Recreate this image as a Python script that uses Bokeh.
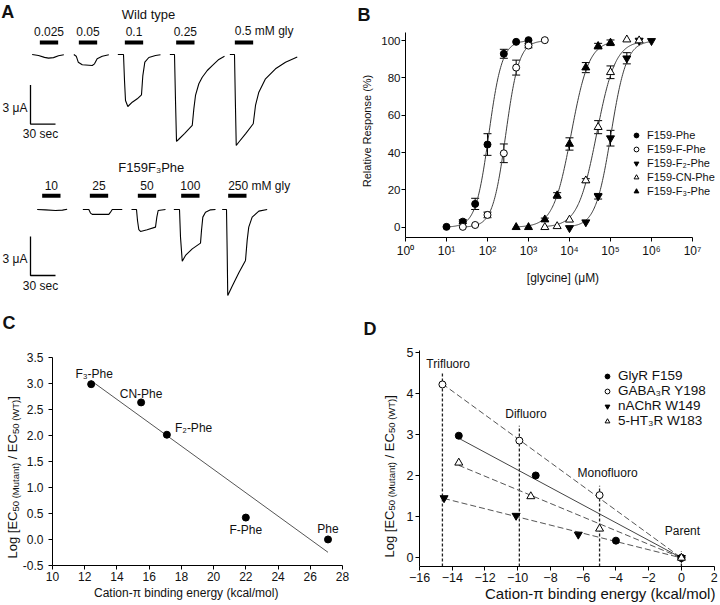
import math
import numpy as np
from bokeh.plotting import figure
from bokeh.layouts import column, row
from bokeh.core.properties import value
from bokeh.models import (ColumnDataSource, Label, Legend, LegendItem, Whisker,
                          TeeHead, FixedTicker, Range1d, PrintfTickFormatter, LinearAxis)
from bokeh.embed import file_html
from bokeh.resources import INLINE

FONT = "Liberation Sans"
INK = "#111111"

# ======================= DATA =======================
# ---- Panel A: current traces (time in s from sweep start, current in uA vs baseline)
wt_title = "Wild type"
wt_conc_labels = ["0.025", "0.05", "0.1", "0.25", "0.5 mM gly"]
wt_time = [
    [0, 7.6, 14.8, 19.6, 25.6, 31.6, 38.0],
    [0, 2.9, 5.3, 10.1, 22.1, 24.8, 28.0, 34.1, 42.0],
    [0, 6.8, 8.0, 9.2, 12.0, 17.3, 23.3, 28.4, 30.0, 32.4, 37.2, 45.2, 51.2],
    [0, 5.6, 6.8, 8.0, 10.4, 17.6, 26.9, 28.8, 30.8, 34.8, 38.9, 44.9, 50.9, 58.8, 65.6],
    [0, 5.6, 6.6, 7.7, 10.4, 18.8, 28.1, 30.8, 34.8, 42.8, 54.8, 66.8, 80.9],
]
wt_current = [
    [0, -0.08, -0.22, -0.28, -0.24, -0.10, -0.02],
    [0, -0.13, -0.59, -0.79, -0.85, -0.72, -0.33, -0.13, -0.02],
    [0, 0, -2.00, -3.54, -4.00, -3.67, -3.41, -3.10, -1.62, -0.59, -0.23, -0.08, -0.02],
    [0, 0, -3.54, -6.69, -6.54, -6.08, -5.46, -4.18, -3.15, -2.25, -1.75, -1.23, -0.85, -0.38, -0.13],
    [0, 0, -3.50, -7.00, -6.77, -6.10, -5.33, -3.92, -2.90, -1.87, -1.10, -0.59, -0.20],
]
mut_title = "F159F\u2083Phe"
mut_conc_labels = ["10", "25", "50", "100", "250 mM gly"]
mut_time = [
    [0, 10.0, 22.0, 30.4, 36.0],
    [0, 7.2, 9.2, 11.3, 31.2, 33.2, 35.3, 47.3],
    [0, 6.0, 7.2, 8.8, 10.8, 18.8, 28.8, 30.4, 32.0, 40.8],
    [0, 6.8, 8.0, 10.1, 14.0, 22.1, 32.0, 33.2, 34.8, 38.0, 44.0, 50.0],
    [0, 5.2, 6.0, 6.7, 12.0, 20.0, 28.0, 30.0, 31.9, 36.0, 44.0, 54.0],
]
mut_current = [
    [0, -0.03, -0.08, -0.05, 0.02],
    [0, 0, -0.28, -0.38, -0.38, -0.21, 0, 0],
    [0, 0, -0.85, -1.56, -1.69, -1.56, -1.36, -0.59, -0.08, 0],
    [0, 0, -2.13, -3.98, -3.54, -3.03, -2.59, -1.62, -0.59, -0.21, -0.03, 0],
    [0, 0, -3.15, -6.62, -5.90, -4.87, -3.92, -2.38, -1.36, -0.59, -0.13, 0],
]
app_duration_s = 22
scale_current_uA = 3
scale_time_s = 30

# ---- Panel B: concentration-response ([glycine] uM, relative response %, SEM)
b_names = ["F159-Phe", "F159-F-Phe", "F159-F\u2082-Phe", "F159-CN-Phe", "F159-F\u2083-Phe"]
phe_x = [10, 25, 50, 100, 250, 500, 1000]
phe_y = [0.2, 3.0, 12.5, 44.3, 92.9, 99.3, 100.2]
phe_err = [0, 1.0, 3.0, 5.8, 2.4, 0, 0]
fphe_x = [25, 50, 100, 250, 500, 1000, 2500]
fphe_y = [0.2, 1.2, 6.6, 39.6, 85.5, 97.3, 100.2]
fphe_err = [0, 0, 1.5, 5.0, 4.0, 1.2, 0]
f2_x = [1e4, 2.5e4, 5e4, 1e5, 2.5e5, 5e5, 1e6]
f2_y = [-0.4, 2.7, 16.6, 47.7, 90.5, 100.0, 99.8]
f2_err = [0, 0, 1.5, 4.2, 3.0, 0, 0]
cn_x = [2500, 5000, 1e4, 2.5e4, 5e4, 1e5, 2.5e5, 5e5]
cn_y = [0.0, 0.5, 4.0, 25.0, 53.6, 83.0, 100.5, 100.0]
cn_err = [0, 0, 0, 1.0, 3.5, 3.4, 0, 0]
f3_x = [500, 1000, 2500, 5000, 1e4, 2.5e4, 5e4, 1e5]
f3_y = [0.0, 0.0, 4.1, 17.0, 44.6, 85.5, 97.0, 98.8]
f3_err = [0, 0, 0.8, 1.5, 3.3, 2.7, 1.5, 1.5]
# Hill fits (EC50 in uM, Hill coefficient)
hill_ec50 = [108, 280, 103000, 46000, 11000]
hill_nh = [2.7, 2.7, 2.3, 1.9, 2.0]
b_xticks = [1, 10, 100, 1000, 10000, 100000, 1000000, 10000000]
b_xtick_labels = ["10\u2070", "10\u00b9", "10\u00b2", "10\u00b3", "10\u2074", "10\u2075", "10\u2076", "10\u2077"]
b_yticks = [0, 20, 40, 60, 80, 100]

# ---- Panel C: log EC50 ratio vs cation-pi binding energy
c_names = ["F\u2083-Phe", "CN-Phe", "F\u2082-Phe", "F-Phe", "Phe"]
c_energy = [12.4, 15.5, 17.1, 22.0, 27.1]
c_logratio = [2.98, 2.63, 2.01, 0.42, 0.0]
c_xticks = [10, 12, 14, 16, 18, 20, 22, 24, 26, 28]
c_yticks = [-0.5, 0.0, 0.5, 1.0, 1.5, 2.0, 2.5, 3.0, 3.5]

# ---- Panel D: relative binding energy vs log EC50 ratio, four receptors
d_names = ["GlyR F159", "GABA\u2083R Y198", "nAChR W149", "5-HT\u2083R W183"]
glyr_x = [-13.6, -8.9, -4.0, 0.0]
glyr_y = [2.98, 2.01, 0.42, 0.0]
gaba_x = [-14.6, -9.9, -5.0, 0.0]
gaba_y = [4.23, 2.86, 1.53, 0.0]
nachr_x = [-14.5, -10.1, -6.3, 0.0]
nachr_y = [1.46, 1.03, 0.57, 0.0]
ht3_x = [-13.6, -9.2, -5.0, 0.0]
ht3_y = [2.32, 1.50, 0.71, 0.0]
d_groups = ["Trifluoro", "Difluoro", "Monofluoro", "Parent"]
d_group_x = [-14.6, -9.9, -5.0, 0.0]
d_group_top = [4.52, 3.22, 1.76, 0.17]
d_xticks = [-16, -14, -12, -10, -8, -6, -4, -2, 0, 2]
d_yticks = [0, 1, 2, 3, 4, 5]

XTITLE = "Cation-\u03c0 binding energy (kcal/mol)"

# ======================= HELPERS =======================
ARIAL = {" ": 278, "(": 333, ")": 333, "/": 278, "[": 278, "]": 278, "-": 333,
         "E": 667, "C": 722, "L": 556, "M": 833, "W": 944, "T": 611,
         "t": 278, "i": 222, "l": 222, "g": 556}


def tw(s, size):
    return sum(ARIAL.get(ch, 556) for ch in s) * size / 1000.0


def base_fig(**kw):
    p = figure(toolbar_location=None, output_backend="svg",
               outline_line_color=None, background_fill_color="white",
               border_fill_color="white", **kw)
    try:
        p.frame_align = False
    except Exception:
        pass
    return p


def style_axes(p, tick_size, title_size, label_standoff=2, title_standoff=4):
    for ax in p.axis:
        ax.axis_line_color = "black"
        ax.axis_line_width = 1
        ax.major_tick_line_color = "black"
        ax.major_tick_in = 0
        ax.major_tick_out = 4
        ax.minor_tick_line_color = None
        ax.major_label_text_font = FONT
        ax.major_label_text_font_size = tick_size
        ax.major_label_text_color = INK
        ax.major_label_standoff = label_standoff
        ax.axis_label_text_font = FONT
        ax.axis_label_text_font_size = title_size
        ax.axis_label_text_font_style = "normal"
        ax.axis_label_text_color = INK
        ax.axis_label_standoff = title_standoff
    p.grid.visible = False


def text_axis(p, side, ticks, texts, size, standoff, orientation="horizontal", bold=False):
    """An axis with no line and no tick marks, used only to place text in a side panel."""
    tk = [round(float(t), 4) for t in ticks]
    ax = LinearAxis(ticker=FixedTicker(ticks=tk, minor_ticks=[]),
                    major_label_overrides={t: s for t, s in zip(tk, texts)},
                    axis_line_color=None, major_tick_line_color=None,
                    minor_tick_line_color=None, major_tick_in=0, major_tick_out=0,
                    minor_tick_in=0, minor_tick_out=0,
                    major_label_standoff=standoff, major_label_orientation=orientation,
                    major_label_text_font=FONT, major_label_text_font_size=size,
                    major_label_text_color=INK,
                    major_label_text_font_style="bold" if bold else "normal")
    p.add_layout(ax, side)


def panel_letter(p, letter, offset):
    p.title.text = letter
    p.title.align = "left"
    p.title.offset = offset
    p.title.standoff = 0
    p.title.text_font = FONT
    p.title.text_font_size = "18px"
    p.title.text_font_style = "bold"
    p.title.text_color = INK


def label(p, x, y, text, size="12px", align="center", baseline="middle",
          dx=0, dy=0, bold=False):
    p.add_layout(Label(x=x, y=y, x_offset=dx, y_offset=dy, text=text,
                       text_font=FONT, text_font_size=size, text_color=INK,
                       text_align=align, text_baseline=baseline,
                       text_font_style="bold" if bold else "normal"))


def ec50_title(p, y0, px_per_unit, start_px, sub_standoff, main_standoff):
    """Log [EC50 (Mutant) / EC50 (WT)] written bottom-to-top with small subscripts."""
    pieces = [("Log [EC", 13, False, 0.0), ("50 (Mutant)", 9.5, True, 0.0),
              ("/ EC", 13, False, tw(" ", 13)), ("50 (WT)", 9.5, True, 0.0),
              ("]", 13, False, 0.0)]
    pos = start_px
    main_t, main_s, sub_t, sub_s = [], [], [], []
    for text, size, sub, gap in pieces:
        pos += gap
        w = tw(text, size)
        centre = y0 + (pos + w / 2.0) / px_per_unit
        (sub_t if sub else main_t).append(centre)
        (sub_s if sub else main_s).append(text)
        pos += w
    text_axis(p, "left", sub_t, sub_s, "9.5px", sub_standoff, orientation="vertical")
    text_axis(p, "left", main_t, main_s, "13px", main_standoff, orientation="vertical")


# ======================= PANEL A =======================
pa = base_fig(width=358, height=308, x_range=Range1d(0, 429.6), y_range=Range1d(-19.54, 4.154),
              x_axis_location=None, y_axis_location=None, min_border=0)
pa.grid.visible = False

rows_a = [
    dict(title=wt_title, conc=wt_conc_labels, t=wt_time, i=wt_current,
         sweep=[38.0, 88.0, 140.8, 203.2, 275.2], app=[47.2, 94.0, 149.2, 210.8, 281.2],
         base=0.0, bar_y=0.92, lab_y=1.77, title_xy=(177.6, 3.08), scale_y=-5.35),
    dict(title=mut_title, conc=mut_conc_labels, t=mut_time, i=mut_current,
         sweep=[44.0, 98.8, 157.2, 208.0, 266.0], app=[50.0, 107.2, 164.8, 216.8, 273.2],
         base=-11.92, bar_y=-10.87, lab_y=-10.08, title_xy=(181.0, -8.67), scale_y=-17.0),
]
for r in rows_a:
    xs = [[s + t for t in tt] for s, tt in zip(r["sweep"], r["t"])]
    ys = [[r["base"] + c for c in cc] for cc in r["i"]]
    pa.multi_line(xs, ys, line_color="black", line_width=1.1)
    pa.quad(left=r["app"], right=[a + app_duration_s for a in r["app"]],
            bottom=[r["bar_y"] - 0.155] * 5, top=[r["bar_y"] + 0.155] * 5,
            fill_color="black", line_color=None)
    for k, (a, txt) in enumerate(zip(r["app"], r["conc"])):
        if k < 4:
            label(pa, a + app_duration_s / 2, r["lab_y"], txt, size="12px")
        else:
            label(pa, a, r["lab_y"], txt, size="12px", align="left")
    label(pa, r["title_xy"][0], r["title_xy"][1], r["title"], size="13px")
    # scale bar
    sx0, sy0 = 36.0, r["scale_y"]
    pa.line([sx0, sx0, sx0 + scale_time_s], [sy0 + scale_current_uA, sy0, sy0],
            line_color="black", line_width=1.3)
    label(pa, sx0 - 3.6, sy0 + scale_current_uA / 2 - 0.25, f"{scale_current_uA} \u03bcA",
          size="12px", align="right")
    label(pa, sx0 + scale_time_s / 2 - 3.0, sy0 - 0.78, f"{scale_time_s} sec", size="12px")

label(pa, 1.0, 4.154, "A", size="18px", align="left", baseline="top", dy=-1, bold=True)

# ======================= PANEL B =======================
pb = base_fig(width=362, height=308, x_axis_type="log", x_range=Range1d(1, 10 ** 7.683),
              y_range=Range1d(-5.5, 108.59), min_border_left=47, min_border_right=0,
              min_border_top=24, min_border_bottom=71)
panel_letter(pb, "B", -48)
pb.xaxis.axis_label = "[glycine] (\u03bcM)"
pb.yaxis.axis_label = "Relative Response (%)"
style_axes(pb, "12px", "12px")
pb.xaxis.axis_label_standoff = 10
pb.yaxis.axis_label_standoff = 5
pb.yaxis.major_label_standoff = 1
pb.yaxis.axis_label_text_font_size = "11px"
pb.yaxis.major_label_text_font_size = "11.5px"
pb.xaxis.ticker = FixedTicker(ticks=b_xticks, minor_ticks=[])
pb.xaxis.major_label_overrides = {t: s for t, s in zip(b_xticks, b_xtick_labels)}
pb.xaxis.bounds = (1, 1e7)
pb.yaxis.ticker = FixedTicker(ticks=b_yticks, minor_ticks=[])
pb.yaxis.bounds = (-5.5, 104.3)

b_series = [
    (phe_x, phe_y, phe_err, "circle", "black", 7),
    (fphe_x, fphe_y, fphe_err, "circle", "white", 7),
    (f2_x, f2_y, f2_err, "inverted_triangle", "black", 8),
    (cn_x, cn_y, cn_err, "triangle", "white", 8),
    (f3_x, f3_y, f3_err, "triangle", "black", 8),
]
b_renderers = []
for (xv, yv, ev, mk, fill, sz), ec50, nh in zip(b_series, hill_ec50, hill_nh):
    xx = np.logspace(np.log10(xv[0]), np.log10(xv[-1]), 160)
    yy = 100.0 / (1.0 + (ec50 / xx) ** nh)
    pb.line(xx, yy, line_color="#3c3c3c", line_width=1.0)
    sel = [k for k, e in enumerate(ev) if e > 0]
    wsrc = ColumnDataSource(dict(x=[xv[k] for k in sel],
                                 upper=[yv[k] + ev[k] for k in sel],
                                 lower=[yv[k] - ev[k] for k in sel]))
    pb.add_layout(Whisker(source=wsrc, base="x", upper="upper", lower="lower",
                          dimension="height", line_color="black", line_width=1,
                          level="underlay",
                          upper_head=TeeHead(size=8, line_color="black", line_width=1),
                          lower_head=TeeHead(size=8, line_color="black", line_width=1)))
    rr = pb.scatter(xv, yv, marker=mk, size=sz, fill_color=fill, line_color="black",
                    line_width=1)
    b_renderers.append(rr)

pb.add_layout(Legend(items=[LegendItem(label=value(n), renderers=[r])
                            for n, r in zip(b_names, b_renderers)],
                     location=(225, 40), orientation="vertical", padding=0, margin=0,
                     spacing=2, glyph_width=12, glyph_height=12, label_standoff=5,
                     label_height=10, label_width=10, label_text_font=FONT,
                     label_text_font_size="11px", label_text_color=INK,
                     background_fill_alpha=0, border_line_color=None))

# ======================= PANEL C =======================
c_ppu_y = 52.1
pc = base_fig(width=358, height=296, x_range=Range1d(10, 28), y_range=Range1d(-0.5, 3.972),
              min_border_left=52, min_border_right=16, min_border_top=24, min_border_bottom=39)
panel_letter(pc, "C", -50)
style_axes(pc, "12px", "12px", label_standoff=2, title_standoff=3)
pc.yaxis.major_label_standoff = 5
pc.xaxis.ticker = FixedTicker(ticks=c_xticks, minor_ticks=[])
pc.yaxis.ticker = FixedTicker(ticks=c_yticks, minor_ticks=[])
pc.yaxis.formatter = PrintfTickFormatter(format="%.1f")
pc.yaxis.bounds = (-0.5, 3.5)
pc.xaxis.bounds = (10, 28)

slope, icpt = np.polyfit(c_energy, c_logratio, 1)
xfit = np.array([min(c_energy), max(c_energy)])
pc.line(xfit, slope * xfit + icpt, line_color="#555555", line_width=1.0)
pc.scatter(c_energy, c_logratio, marker="circle", size=7, fill_color="black", line_color="black")
c_label_place = [(3, 10, "center"), (0, 8.5, "center"), (8, 6.7, "left"),
                 (0, -12, "center"), (0, 10, "center")]
for e, v, n, (dx, dy, al) in zip(c_energy, c_logratio, c_names, c_label_place):
    label(pc, e, v, n, size="12px", align=al, dx=dx, dy=dy)
ec50_title(pc, -0.5, c_ppu_y, 7, -2, -13)
text_axis(pc, "below", [18.3], [XTITLE], "12px", 2)

# ======================= PANEL D =======================
d_ppu_y = 41.0
pdd = base_fig(width=362, height=296, x_range=Range1d(-16, 2.388), y_range=Range1d(-0.21, 5.351),
               min_border_left=61, min_border_right=0, min_border_top=30, min_border_bottom=38)
panel_letter(pdd, "D", -56)
style_axes(pdd, "12.5px", "14.5px", label_standoff=2, title_standoff=2)
pdd.xaxis.ticker = FixedTicker(ticks=d_xticks, minor_ticks=[])
pdd.yaxis.ticker = FixedTicker(ticks=d_yticks, minor_ticks=[])
pdd.xaxis.bounds = (-16, 2)
pdd.yaxis.bounds = (-0.21, 5.05)

pdd.segment(x0=d_group_x, y0=[-0.21] * 4, x1=d_group_x, y1=d_group_top,
            line_color="#222222", line_width=1.3, line_dash="3 2")
d_label_pos = [(-14.25, 4.73), (-9.5, 3.51), (-4.51, 2.06), (0.06, 0.65)]
for (lx, ly), g in zip(d_label_pos, d_groups):
    label(pdd, lx, ly, g, size="12px")

d_series = [
    (glyr_x, glyr_y, "circle", "black", 7, "solid", "#444444"),
    (gaba_x, gaba_y, "circle", "white", 7, "6 3", "#555555"),
    (nachr_x, nachr_y, "inverted_triangle", "black", 8, "6 3", "#555555"),
    (ht3_x, ht3_y, "triangle", "white", 8, "6 3", "#555555"),
]
d_renderers = []
for xv, yv, mk, fill, sz, dash, lc in d_series:
    xa, ya = np.array(xv), np.array(yv)
    k = float((xa * ya).sum() / (xa * xa).sum())
    pdd.line([xa.min(), 0.0], [k * xa.min(), 0.0], line_color=lc, line_width=1.0,
             line_dash=dash)
for xv, yv, mk, fill, sz, dash, lc in d_series:
    d_renderers.append(pdd.scatter(xv, yv, marker=mk, size=sz, fill_color=fill,
                                   line_color="black", line_width=1))
pdd.add_layout(Legend(items=[LegendItem(label=value(n), renderers=[r])
                             for n, r in zip(d_names, d_renderers)],
                      location=(182, 138), orientation="vertical", padding=0, margin=0,
                      spacing=-2, glyph_width=12, glyph_height=12, label_standoff=5,
                      label_height=10, label_width=10, label_text_font=FONT,
                      label_text_font_size="13.5px", label_text_color=INK,
                      background_fill_alpha=0, border_line_color=None))
ec50_title(pdd, -0.21, d_ppu_y, 9, 6, -14)
text_axis(pdd, "below", [-4.96], [XTITLE], "15px", 0)

layout = column(row(column(pa), column(pb)), row(column(pc), column(pdd)))
html = file_html(layout, INLINE, title="Glycine receptor cation-pi figure")
open("out.html", "w").write(html)
